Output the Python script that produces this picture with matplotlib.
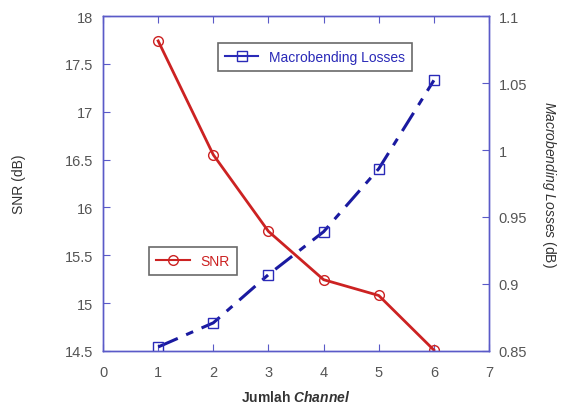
import matplotlib.pyplot as plt
from matplotlib.lines import Line2D

plt.rcParams['font.family'] = ['Liberation Sans', 'DejaVu Sans']
plt.rcParams['mathtext.fontset'] = 'custom'
plt.rcParams['mathtext.rm'] = 'Liberation Sans'
plt.rcParams['mathtext.it'] = 'Liberation Sans:italic'
plt.rcParams['mathtext.bf'] = 'Liberation Sans:bold'
plt.rcParams['mathtext.bfit'] = 'Liberation Sans:italic:bold'

# data
channel = [1, 2, 3, 4, 5, 6]
snr = [17.74, 16.55, 15.75, 15.245, 15.08, 14.51]
macro = [0.853, 0.871, 0.907, 0.939, 0.986, 1.052]

spine_col = '#5a5ac8'
tick_col = '#555555'

fig = plt.figure(figsize=(5.66, 4.10), dpi=100)
ax = fig.add_axes([0.182, 0.1415, 0.682, 0.817])
ax2 = ax.twinx()

ax.plot(channel, snr, color='#cc2222', linewidth=2, marker='o',
        markersize=7, markerfacecolor='none', markeredgecolor='#cc2222',
        markeredgewidth=1)
ax2.plot(channel, macro, color='#1a1aa0', linewidth=2.2,
         linestyle=(0, (7, 3, 2.5, 3)), marker='s', markersize=7,
         markerfacecolor='none', markeredgecolor='#2a2ab8',
         markeredgewidth=1)

ax.set_xlim(0, 7)
ax.set_ylim(14.5, 18)
ax2.set_ylim(0.85, 1.1)
ax.set_xticks(range(0, 8))
ax.set_yticks([14.5, 15, 15.5, 16, 16.5, 17, 17.5, 18])
ax.set_yticklabels(['14.5', '15', '15.5', '16', '16.5', '17', '17.5', '18'])
ax2.set_yticks([0.85, 0.9, 0.95, 1.0, 1.05, 1.1])
ax2.set_yticklabels(['0.85', '0.9', '0.95', '1', '1.05', '1.1'])

for a in (ax, ax2):
    for s in a.spines.values():
        s.set_color(spine_col)
        s.set_linewidth(1)
ax.tick_params(axis='y', direction='in', length=5, color=spine_col,
               labelcolor=tick_col, labelsize=10.5, pad=7)
ax.tick_params(axis='x', direction='in', length=5, color=spine_col,
               labelcolor=tick_col, labelsize=10.5, pad=10, top=True)
ax2.tick_params(axis='y', direction='in', length=5, color=spine_col,
                labelcolor=tick_col, labelsize=10.5, pad=7)

ax.set_ylabel('SNR (dB)', fontsize=10, color='#333333', labelpad=28)
ax2.set_ylabel('$\\mathit{Macrobending\\ Losses}$ (dB)', fontsize=10,
               color='#333333', rotation=270, labelpad=22)
ax.set_xlabel('Jumlah $\\mathbfit{Channel}$', fontsize=10, color='#333333',
              fontweight='bold', labelpad=7)

# legend handles (solid line through the marker)
h1 = Line2D([], [], color='#cc2222', linewidth=1.5, marker='o', markersize=7,
            markerfacecolor='none', markeredgecolor='#cc2222')
h2 = Line2D([], [], color='#2a2ab8', linewidth=1.5, marker='s', markersize=7,
            markerfacecolor='none', markeredgecolor='#2a2ab8')

leg1 = ax2.legend([h1], ['SNR'], loc='upper left',
                  bbox_to_anchor=(0.102, 0.332), fancybox=False,
                  edgecolor='#444444', fontsize=10, handlelength=2.4,
                  borderpad=0.5)
leg1.get_frame().set_linewidth(1.2)
leg1.get_texts()[0].set_color('#cc2222')
ax2.add_artist(leg1)
leg2 = ax2.legend([h2], ['Macrobending Losses'], loc='upper left',
                  bbox_to_anchor=(0.28, 0.94), fancybox=False,
                  edgecolor='#444444', fontsize=10, handlelength=2.4,
                  borderpad=0.5)
leg2.get_frame().set_linewidth(1.2)
leg2.get_texts()[0].set_color('#2a2ab8')

plt.savefig('out.png', dpi=100)
